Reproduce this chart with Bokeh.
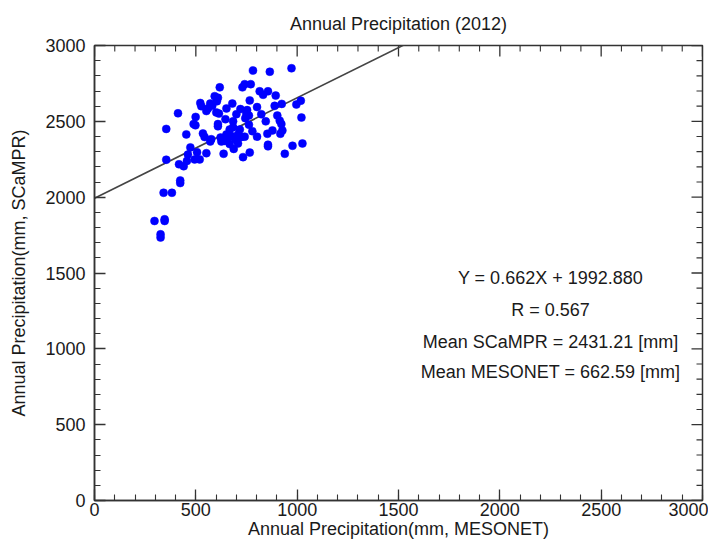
from bokeh.plotting import figure
from bokeh.models import Range1d, SingleIntervalTicker, Label
from bokeh.embed import file_html
from bokeh.resources import INLINE

# ---- data ----
mesonet = [782, 865, 972, 618, 730, 741, 771, 815, 832, 856, 894, 593, 609, 766,
           522, 527, 571, 581, 560, 552, 680, 651, 720, 753, 802, 889, 924, 996,
           1018, 412, 499, 601, 614, 700, 749, 762, 823, 902, 1021, 646, 744, 609,
           609, 489, 498, 845, 914, 922, 762, 684, 667, 354, 453, 535, 543, 576,
           571, 622, 642, 659, 675, 667, 695, 708, 725, 741, 708, 687, 779, 802,
           853, 878, 927, 917, 856, 856, 977, 1026, 473, 506, 461, 552, 637, 733,
           766, 939, 354, 456, 494, 519, 417, 440, 423, 423, 341, 382, 296, 346,
           346, 326, 326, 604, 684, 651, 717, 626]
scampr = [2835, 2827, 2850, 2724, 2724, 2745, 2745, 2698, 2675, 2698, 2670, 2666,
          2656, 2638, 2621, 2600, 2617, 2602, 2585, 2568, 2617, 2585, 2581, 2574,
          2594, 2602, 2615, 2611, 2636, 2553, 2529, 2559, 2551, 2547, 2551, 2538,
          2547, 2538, 2525, 2514, 2521, 2482, 2467, 2482, 2474, 2500, 2504, 2482,
          2478, 2461, 2446, 2450, 2414, 2420, 2397, 2382, 2367, 2393, 2371, 2393,
          2403, 2350, 2382, 2414, 2397, 2399, 2354, 2318, 2435, 2399, 2418, 2440,
          2440, 2418, 2346, 2335, 2339, 2354, 2328, 2296, 2281, 2290, 2286, 2264,
          2294, 2286, 2247, 2239, 2249, 2249, 2217, 2204, 2110, 2093, 2029, 2029,
          1843, 1854, 1843, 1755, 1734, 2632, 2500, 2414, 2446, 2367]

slope = 0.662
intercept = 1992.880
r_value = 0.567
mean_scampr = 2431.21
mean_mesonet = 662.59

axis_min = 0
axis_max = 3000
major_step = 500
minor_step = 100

title_text = "Annual Precipitation (2012)"
x_label = "Annual Precipitation(mm, MESONET)"
y_label = "Annual Precipitation(mm, SCaMPR)"

major_ticks = list(range(axis_min, axis_max + 1, major_step))
minor_ticks = [v for v in range(axis_min, axis_max + 1, minor_step) if v % major_step]

FONT = "Liberation Sans"
FS = "18px"
INK = "#1a1a1a"
AX = "#333333"

W, H = 708, 543
BL, BR, BT, BB = 94, 6, 45, 43
FW, FH = W - BL - BR, H - BT - BB
MAJ_LEN, MIN_LEN = 11, 6

p = figure(width=W, height=H, output_backend="svg", toolbar_location=None,
           x_range=Range1d(axis_min, axis_max), y_range=Range1d(axis_min, axis_max),
           x_axis_label=x_label, y_axis_label=y_label,
           min_border_left=BL, min_border_right=BR, min_border_top=BT,
           min_border_bottom=BB)

p.title.text = title_text
p.title.align = "center"
p.title.text_font = FONT
p.title.text_font_size = FS
p.title.text_font_style = "normal"
p.title.text_color = INK
p.title.standoff = 23

p.grid.visible = False
p.outline_line_color = AX
p.outline_line_width = 1.5
p.background_fill_color = "white"
p.border_fill_color = "white"


def style_axis(ax):
    ax.ticker = SingleIntervalTicker(interval=major_step,
                                     num_minor_ticks=major_step // minor_step)
    ax.axis_line_color = AX
    ax.axis_line_width = 1.5
    ax.major_tick_line_color = AX
    ax.major_tick_line_width = 1.3
    ax.minor_tick_line_color = AX
    ax.minor_tick_line_width = 1.1
    ax.major_tick_in = MAJ_LEN
    ax.major_tick_out = 0
    ax.minor_tick_in = MIN_LEN
    ax.minor_tick_out = 0
    ax.major_label_text_font = FONT
    ax.major_label_text_font_size = FS
    ax.major_label_text_color = INK
    ax.axis_label_text_font = FONT
    ax.axis_label_text_font_size = FS
    ax.axis_label_text_font_style = "normal"
    ax.axis_label_text_color = INK


for ax in p.xaxis:
    style_axis(ax)
    ax.major_label_standoff = 2
    ax.axis_label_standoff = 0
for ax in p.yaxis:
    style_axis(ax)
    ax.major_label_standoff = 9
    ax.axis_label_standoff = 13

# mirrored inward ticks on the top and right edges
span = axis_max - axis_min
dy_maj, dy_min = MAJ_LEN * span / FH, MIN_LEN * span / FH
dx_maj, dx_min = MAJ_LEN * span / FW, MIN_LEN * span / FW
p.segment(x0=major_ticks, y0=[axis_max] * len(major_ticks), x1=major_ticks,
          y1=[axis_max - dy_maj] * len(major_ticks), line_color=AX, line_width=1.3)
p.segment(x0=minor_ticks, y0=[axis_max] * len(minor_ticks), x1=minor_ticks,
          y1=[axis_max - dy_min] * len(minor_ticks), line_color=AX, line_width=1.1)
p.segment(x0=[axis_max] * len(major_ticks), y0=major_ticks,
          x1=[axis_max - dx_maj] * len(major_ticks), y1=major_ticks,
          line_color=AX, line_width=1.3)
p.segment(x0=[axis_max] * len(minor_ticks), y0=minor_ticks,
          x1=[axis_max - dx_min] * len(minor_ticks), y1=minor_ticks,
          line_color=AX, line_width=1.1)

# regression line (clipped by the frame)
fit_x = [axis_min, axis_max]
fit_y = [slope * v + intercept for v in fit_x]
p.line(fit_x, fit_y, line_color="#444444", line_width=1.6)

p.scatter(mesonet, scampr, size=8, fill_color="#0000ff", line_color="#0000ff",
          line_width=0.5)

texts = [
    f"Y = {slope:.3f}X + {intercept:.3f}",
    f"R = {r_value:.3f}",
    f"Mean SCaMPR = {mean_scampr:.2f} [mm]",
    f"Mean MESONET = {mean_mesonet:.2f} [mm]",
]
ys = [1464, 1259, 1048, 844]
for t, yy in zip(texts, ys):
    p.add_layout(Label(x=2250, y=yy, text=t, text_align="center",
                       text_baseline="middle", text_font=FONT,
                       text_font_size=FS, text_color=INK))

open("out.html", "w").write(file_html(p, INLINE))
